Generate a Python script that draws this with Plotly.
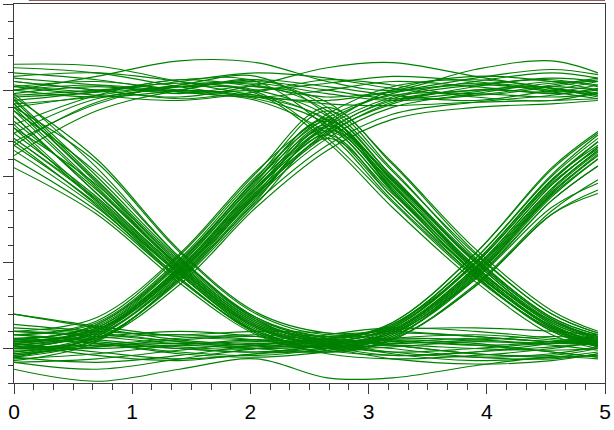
import plotly.graph_objects as go

# Sample instants (time axis) at which each captured waveform is tabulated
t_knots = [0.0, 0.7, 1.4, 2.05, 2.65, 3.2, 3.9, 4.55, 4.94]

# Waveform levels grouped by bit pattern (bits centred near 0.15, 2.65, 5.15)
high_high_high = [
    [1.50, 1.53, 1.49, 1.46, 1.50, 1.55, 1.52, 1.48, 1.50],
    [1.46, 1.49, 1.55, 1.60, 1.57, 1.51, 1.47, 1.52, 1.56],
    [1.63, 1.60, 1.52, 1.46, 1.44, 1.49, 1.57, 1.62, 1.59],
    [1.42, 1.46, 1.52, 1.55, 1.50, 1.45, 1.49, 1.55, 1.53],
    [1.55, 1.50, 1.46, 1.53, 1.63, 1.66, 1.58, 1.51, 1.47],
    [1.20, 1.42, 1.53, 1.54, 1.48, 1.44, 1.47, 1.53, 1.57],
    [1.57, 1.53, 1.49, 1.50, 1.54, 1.58, 1.55, 1.49, 1.45],
    [1.12, 1.38, 1.50, 1.56, 1.52, 1.47, 1.44, 1.50, 1.55],
    [1.50, 1.58, 1.67, 1.66, 1.55, 1.50, 1.62, 1.67, 1.60],
    [1.65, 1.64, 1.55, 1.47, 1.42, 1.41, 1.43, 1.44, 1.45],
    [1.30, 1.47, 1.56, 1.52, 1.46, 1.49, 1.54, 1.51, 1.48],
    [1.52, 1.47, 1.44, 1.49, 1.56, 1.53, 1.46, 1.44, 1.49],
]
high_high_low = [
    [1.52, 1.55, 1.50, 1.45, 1.30, 0.92, 0.46, 0.13, 0.05],
    [1.47, 1.50, 1.54, 1.50, 1.35, 0.98, 0.50, 0.15, 0.06],
    [1.60, 1.56, 1.49, 1.44, 1.25, 0.86, 0.42, 0.10, 0.02],
    [1.18, 1.43, 1.52, 1.53, 1.38, 1.00, 0.52, 0.18, 0.08],
    [1.44, 1.49, 1.56, 1.55, 1.28, 0.88, 0.44, 0.12, 0.03],
    [1.55, 1.50, 1.45, 1.47, 1.32, 0.95, 0.48, 0.14, 0.04],
    [1.50, 1.46, 1.50, 1.56, 1.40, 1.03, 0.55, 0.20, 0.09],
    [1.58, 1.60, 1.55, 1.48, 1.20, 0.82, 0.39, 0.08, 0.00],
    [1.25, 1.45, 1.50, 1.46, 1.33, 0.96, 0.47, 0.16, 0.07],
    [1.48, 1.52, 1.48, 1.52, 1.43, 1.08, 0.58, 0.22, 0.10],
    [1.53, 1.49, 1.52, 1.49, 1.22, 0.85, 0.41, 0.11, 0.01],
    [1.40, 1.47, 1.53, 1.58, 1.36, 0.99, 0.51, 0.17, 0.06],
]
high_low_high = [
    [1.35, 0.90, 0.46, 0.13, 0.03, 0.10, 0.46, 0.93, 1.15],
    [1.28, 0.85, 0.43, 0.11, 0.00, 0.08, 0.42, 0.88, 1.10],
    [1.42, 0.97, 0.50, 0.16, 0.05, 0.12, 0.49, 0.97, 1.20],
    [1.10, 0.80, 0.40, 0.10, 0.01, 0.09, 0.44, 0.90, 1.12],
    [1.38, 0.93, 0.48, 0.15, 0.06, 0.14, 0.52, 1.00, 1.22],
    [1.25, 0.88, 0.45, 0.12, 0.02, 0.07, 0.40, 0.86, 1.06],
    [1.45, 1.00, 0.52, 0.18, 0.07, 0.11, 0.47, 0.95, 1.17],
    [1.18, 0.84, 0.41, 0.09, -0.02, 0.05, 0.37, 0.80, 0.98],
    [1.40, 1.08, 0.56, 0.20, 0.08, 0.13, 0.50, 0.98, 1.18],
    [1.32, 0.92, 0.47, 0.14, 0.04, 0.06, 0.36, 0.78, 0.92],
    [1.48, 1.05, 0.53, 0.17, 0.03, 0.10, 0.45, 0.92, 1.14],
    [1.22, 0.86, 0.44, 0.13, 0.05, 0.15, 0.55, 1.04, 1.25],
]
high_low_low = [
    [1.35, 0.90, 0.46, 0.13, 0.02, -0.02, 0.00, 0.03, 0.02],
    [1.30, 0.86, 0.43, 0.10, -0.01, -0.04, -0.02, 0.01, 0.03],
    [1.44, 0.98, 0.51, 0.17, 0.06, 0.03, 0.05, 0.07, 0.06],
    [1.15, 0.82, 0.41, 0.09, 0.00, 0.01, 0.04, 0.02, -0.01],
    [1.40, 0.94, 0.48, 0.15, 0.04, 0.00, -0.05, -0.06, -0.03],
    [1.22, 0.87, 0.44, 0.12, 0.03, 0.06, 0.08, 0.05, 0.02],
    [1.05, 0.78, 0.38, 0.08, -0.03, -0.06, -0.04, 0.00, 0.04],
    [1.46, 1.10, 0.57, 0.21, 0.09, 0.10, 0.07, 0.04, 0.05],
    [1.28, 0.95, 0.49, 0.16, 0.05, 0.02, -0.03, -0.04, 0.00],
    [1.38, 1.02, 0.53, 0.18, 0.04, -0.03, -0.07, -0.05, -0.02],
    [1.20, 0.83, 0.40, 0.10, 0.01, 0.04, 0.02, -0.02, -0.05],
    [1.42, 0.96, 0.47, 0.14, 0.07, 0.11, 0.12, 0.10, 0.08],
]
low_high_high = [
    [0.00, 0.10, 0.46, 0.93, 1.27, 1.44, 1.50, 1.52, 1.50],
    [-0.03, 0.07, 0.42, 0.88, 1.22, 1.40, 1.48, 1.54, 1.55],
    [0.05, 0.14, 0.50, 0.98, 1.32, 1.48, 1.53, 1.50, 1.47],
    [0.02, 0.09, 0.44, 0.91, 1.25, 1.42, 1.52, 1.57, 1.55],
    [-0.05, 0.08, 0.48, 0.96, 1.30, 1.50, 1.58, 1.55, 1.50],
    [0.08, 0.15, 0.52, 1.00, 1.34, 1.47, 1.48, 1.46, 1.48],
    [0.01, 0.06, 0.40, 0.85, 1.18, 1.36, 1.43, 1.47, 1.51],
    [0.04, 0.12, 0.47, 0.94, 1.29, 1.46, 1.55, 1.60, 1.57],
    [-0.01, 0.05, 0.37, 0.82, 1.15, 1.33, 1.40, 1.42, 1.44],
    [0.10, 0.18, 0.55, 1.03, 1.36, 1.52, 1.56, 1.51, 1.46],
    [0.03, 0.11, 0.45, 0.90, 1.24, 1.43, 1.50, 1.49, 1.53],
    [-0.07, 0.04, 0.41, 0.89, 1.26, 1.45, 1.53, 1.56, 1.52],
]
low_high_low = [
    [0.00, 0.10, 0.46, 0.93, 1.30, 0.95, 0.46, 0.13, 0.04],
    [0.03, 0.12, 0.49, 0.97, 1.34, 1.00, 0.50, 0.16, 0.06],
    [-0.04, 0.07, 0.43, 0.89, 1.24, 0.88, 0.42, 0.11, 0.02],
    [0.06, 0.13, 0.50, 0.99, 1.38, 1.04, 0.53, 0.18, 0.08],
    [0.01, 0.09, 0.45, 0.92, 1.28, 0.93, 0.45, 0.12, 0.03],
    [-0.02, 0.08, 0.41, 0.87, 1.26, 0.91, 0.44, 0.12, 0.02],
    [0.04, 0.11, 0.47, 0.95, 1.32, 0.97, 0.48, 0.15, 0.05],
    [0.08, 0.16, 0.54, 1.02, 1.40, 1.07, 0.56, 0.20, 0.09],
    [0.00, 0.06, 0.39, 0.84, 1.22, 0.90, 0.44, 0.13, 0.04],
    [0.02, 0.10, 0.44, 0.90, 1.29, 0.98, 0.51, 0.17, 0.07],
    [-0.05, 0.05, 0.40, 0.86, 1.27, 0.94, 0.47, 0.14, 0.03],
    [0.05, 0.14, 0.51, 0.98, 1.33, 0.92, 0.43, 0.10, 0.01],
]
low_low_high = [
    [0.00, 0.00, 0.02, 0.00, 0.02, 0.10, 0.46, 0.93, 1.15],
    [0.05, 0.03, -0.02, -0.04, 0.00, 0.08, 0.43, 0.89, 1.10],
    [-0.06, -0.03, 0.02, 0.05, 0.04, 0.12, 0.50, 0.98, 1.20],
    [0.20, 0.12, 0.05, 0.02, 0.01, 0.09, 0.44, 0.91, 1.12],
    [0.02, 0.06, 0.08, 0.05, 0.00, 0.07, 0.41, 0.86, 1.06],
    [-0.08, -0.12, -0.06, 0.00, 0.03, 0.13, 0.52, 1.01, 1.24],
    [0.08, 0.04, 0.00, -0.02, 0.02, 0.11, 0.47, 0.95, 1.17],
    [0.03, -0.04, -0.07, -0.03, -0.01, 0.05, 0.36, 0.78, 0.90],
    [-0.02, 0.02, 0.06, 0.08, 0.06, 0.15, 0.55, 1.05, 1.26],
    [0.10, 0.07, 0.03, 0.04, 0.03, 0.09, 0.40, 0.82, 0.96],
    [0.12, 0.09, 0.04, 0.00, -0.02, 0.06, 0.42, 0.90, 1.13],
    [-0.04, 0.01, 0.03, 0.01, 0.05, 0.14, 0.49, 0.96, 1.16],
]
low_low_low = [
    [0.00, 0.02, 0.00, -0.02, 0.00, 0.02, 0.00, -0.01, 0.00],
    [0.06, 0.03, -0.03, -0.05, -0.02, 0.03, 0.06, 0.04, 0.02],
    [-0.05, -0.08, -0.04, 0.02, 0.05, 0.02, -0.03, -0.05, -0.04],
    [-0.12, -0.19, -0.12, -0.06, -0.17, -0.17, -0.10, -0.05, -0.06],
    [0.10, 0.08, 0.04, 0.02, 0.06, 0.09, 0.07, 0.04, 0.05],
    [0.03, -0.02, -0.06, -0.03, 0.02, 0.05, 0.03, -0.02, -0.05],
    [0.14, 0.10, 0.08, 0.10, 0.09, 0.05, 0.02, 0.04, 0.08],
    [0.20, 0.13, 0.07, 0.05, 0.04, 0.06, 0.05, 0.03, 0.04],
    [-0.03, 0.01, 0.05, 0.07, 0.03, -0.02, -0.05, -0.03, 0.01],
    [0.04, 0.07, 0.10, 0.07, 0.01, -0.04, -0.02, 0.03, 0.07],
    [-0.08, -0.06, -0.01, 0.03, 0.00, -0.06, -0.09, -0.07, -0.03],
    [0.08, 0.05, 0.01, 0.00, 0.08, 0.12, 0.10, 0.06, 0.03],
]

pattern_groups = [
    high_high_high, high_high_low, high_low_high, high_low_low,
    low_high_high, low_high_low, low_low_high, low_low_low,
]

x_tick_values = [0, 1, 2, 3, 4, 5]
x_tick_labels = ["0", "1", "2", "3", "4", "5"]

trace_color = "#008000"
axis_color = "#3a3a3a"

fig = go.Figure()
for group in pattern_groups:
    for levels in group:
        fig.add_trace(go.Scatter(
            x=t_knots, y=levels, mode="lines",
            line=dict(color=trace_color, width=1.15, shape="spline", smoothing=1.0),
            hoverinfo="skip", showlegend=False,
        ))

fig.update_layout(
    width=614, height=430,
    margin=dict(l=14, r=3, t=4, b=47),
    paper_bgcolor="white", plot_bgcolor="white",
    showlegend=False,
    shapes=[dict(
        type="line", xref="paper", yref="paper",
        x0=0.025, x1=1.0, y0=1.0105, y1=1.0105,
        line=dict(color="#6e2424", width=1.5),
    )],
)

fig.update_xaxes(
    range=[0, 5], tickvals=x_tick_values, ticktext=x_tick_labels,
    ticks="outside", ticklen=10, tickwidth=1, tickcolor=axis_color,
    ticklabeloverflow="allow",
    showline=True, linecolor=axis_color, linewidth=1, mirror=True,
    showgrid=False, zeroline=False,
    tickfont=dict(family="Liberation Sans, Arial", size=21, color="black"),
    minor=dict(ticks="outside", ticklen=6, tickwidth=1, tickcolor=axis_color,
               dtick=1 / 6, tick0=0, showgrid=False),
)
fig.update_yaxes(
    range=[-0.2, 2.0], tick0=0, dtick=0.5,
    ticks="outside", ticklen=10, tickwidth=1, tickcolor=axis_color,
    showticklabels=False,
    showline=True, linecolor=axis_color, linewidth=1, mirror=True,
    showgrid=False, zeroline=False,
    minor=dict(ticks="outside", ticklen=5, tickwidth=1, tickcolor=axis_color,
               dtick=0.1, tick0=0, showgrid=False),
)

fig.write_html("out.html")
